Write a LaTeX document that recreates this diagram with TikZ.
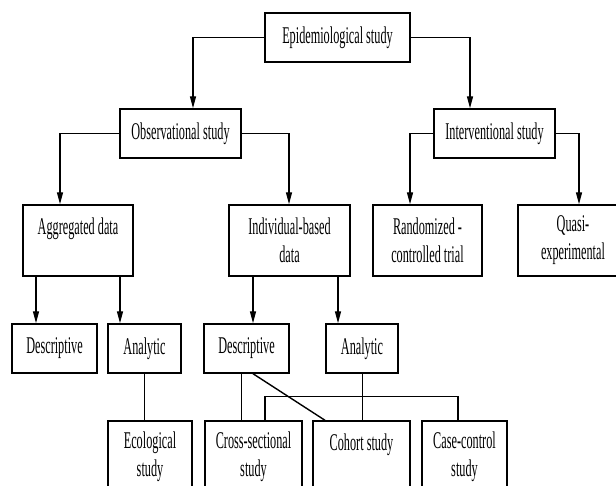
\documentclass[tikz,border=0pt]{standalone}
\usepackage{fontspec}
\setmainfont[FakeStretch=0.51]{Liberation Serif}
\usetikzlibrary{arrows.meta, positioning, calc}
\tikzset{
  every picture/.style={x=1pt, y=-1pt, line width=1.4pt},
  box/.style={draw=black, fill=white, align=center, inner sep=0pt, minimum height=49pt, font=\fontsize{24}{28}\selectfont},
  tall/.style={box, minimum height=71pt},
  arrow/.style={-{Triangle[length=12pt, width=6pt]}, draw=black, line width=1.4pt},
  link/.style={draw=black, line width=1.4pt},
  thinlink/.style={draw=black, line width=0.7pt},
}

\begin{document}
\begin{tikzpicture}
  \clip (0,0) rectangle (616,486);
  % top levels
  \node[box, minimum width=145pt] (epi) at (337.5,37.5) {Epidemiological study};
  \node[box, minimum width=121pt] (obs) at (180.5,133.5) {Observational study};
  \node[box, minimum width=121pt] (int) at (494.5,133.5) {Interventional study};
  \node[tall, minimum width=110pt] (agg) at (78,240.5) {Aggregated data\\~};
  \node[tall, minimum width=121pt] (ind) at (289.5,240.5) {Individual-based\\data};
  \node[tall, minimum width=109pt] (rct) at (427.5,240.5) {Randomized -\\controlled trial};
  \node[tall, minimum width=110pt] (qua) at (573,240.5) {Quasi-\\experimental};
  % data type level
  \node[box, minimum width=85pt] (desc1) at (54.5,348.5) {Descriptive};
  \node[box, minimum width=73pt] (ana1) at (144.5,348.5) {Analytic};
  \node[box, minimum width=85pt] (desc2) at (246.5,348.5) {Descriptive};
  \node[box, minimum width=72pt] (ana2) at (362,348.5) {Analytic};
  % study designs
  \node[tall, minimum width=84pt] (eco) at (150,456.5) {Ecological\\study};
  \node[tall, minimum width=97pt] (cross) at (253.5,456.5) {Cross-sectional\\study};
  \node[tall, minimum width=97pt] (coh) at (361.5,456.5) {Cohort study\\~};
  \node[tall, minimum width=85pt] (cc) at (464.5,456.5) {Case-control\\study};
  % arrows
  \draw[arrow] (epi.west) -| ([xshift=12.5pt]obs.north);
  \draw[arrow] (epi.east) -| ([xshift=-24.5pt]int.north);
  \draw[arrow] (obs.west) -| ([xshift=-18pt]agg.north);
  \draw[arrow] (obs.east) -| ([xshift=-0.5pt]ind.north);
  \draw[arrow] (int.west) -| ([xshift=-17.5pt]rct.north);
  \draw[arrow] (int.east) -| ([xshift=6pt]qua.north);
  \draw[arrow] ([xshift=-42pt]agg.south) -- ([xshift=-42pt]agg.south |- desc1.north);
  \draw[arrow] ([xshift=42pt]agg.south) -- ([xshift=42pt]agg.south |- ana1.north);
  \draw[arrow] ([xshift=-36.5pt]ind.south) -- ([xshift=-36.5pt]ind.south |- desc2.north);
  \draw[arrow] ([xshift=48.5pt]ind.south) -- ([xshift=48.5pt]ind.south |- ana2.north);
  % plain links
  \draw[thinlink] (ana1.south) -- (ana1.south |- eco.north);
  \draw[thinlink] ([xshift=-5.5pt]desc2.south) -- ([xshift=-5.5pt]desc2.south |- cross.north);
  \draw[thinlink] (ana2.south) -- (ana2.south |- coh.north);
  \draw[link] ([xshift=6.5pt]desc2.south) -- ([xshift=-36.5pt]coh.north);
  \draw[link] ([xshift=11.5pt]cross.north) -- ++(0,-24) -| ([xshift=-6.5pt]cc.north);
\end{tikzpicture}
\end{document}
